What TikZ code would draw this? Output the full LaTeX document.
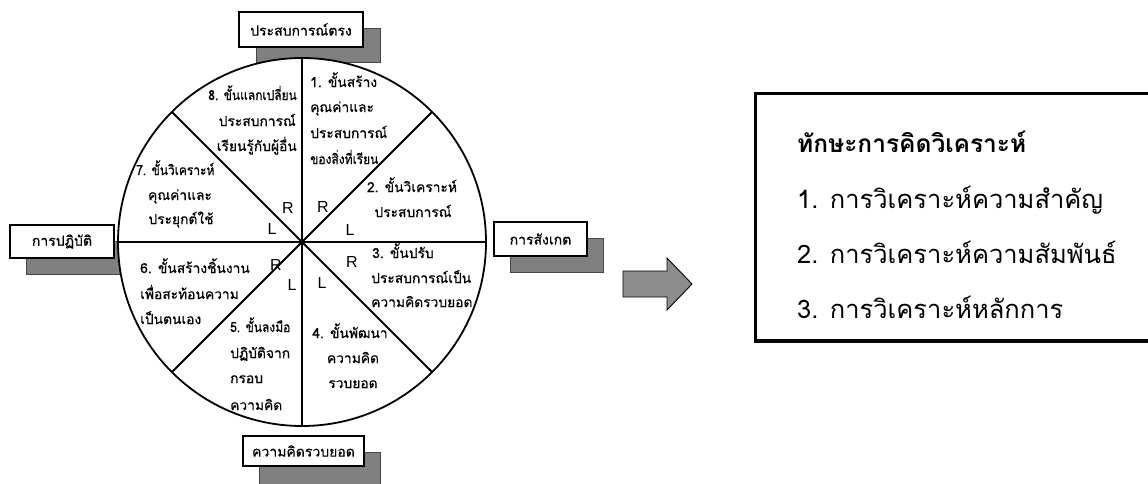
\documentclass[tikz,border=0pt]{standalone}
\usepackage{fontspec}
\setmainfont{Liberation Sans}
\newfontfamily\thai[Script=Thai]{Loma}
\newfontfamily\thaiw[Script=Thai,FakeBold=0.6]{Loma}
\newfontfamily\thain[Script=Thai,FakeBold=0.6,FakeStretch=0.87]{Loma}
\newfontfamily\thaititle[Script=Thai]{Loma Bold}
\definecolor{shadowgray}{RGB}{128,128,128}
\definecolor{shadowedge}{RGB}{70,70,70}
\definecolor{arrowgray}{RGB}{140,140,140}
\tikzset{
  ct/.style={font=\thaiw\fontsize{13.8}{16}\selectfont, inner sep=0pt},
  ctn/.style={font=\thain\fontsize{13.8}{16}\selectfont, inner sep=0pt},
  rl/.style={font=\fontsize{16}{17}\selectfont, inner sep=0pt},
  lbl/.style={draw, line width=1.3pt, fill=white, font=\thaiw\fontsize{14}{16}\selectfont, inner sep=0pt},
  shadowbox/.style={fill=shadowgray, draw=shadowedge, line width=0.8pt},
  wheel/.style={line width=1.8pt},
  big/.style={font=\thai\fontsize{25.5}{28}\selectfont, inner sep=0pt, anchor=base west},
}
\begin{document}
\begin{tikzpicture}[x=1pt,y=-1pt]
\useasboundingbox (0,0) rectangle (1148,483);
% shadows
\draw[shadowbox] (256,28) rectangle (380,62);
\draw[shadowbox] (26,241) rectangle (130,274);
\draw[shadowbox] (510,238) rectangle (603,272);
\draw[shadowbox] (259,452) rectangle (380,490);
% wheel
\coordinate (c) at (302,242);
\draw[wheel, fill=white] (c) circle[radius=184pt];
\foreach \a in {0,45,...,315}{
  \draw[wheel] (c) -- ++(\a:184pt);
}
% label boxes
\node[lbl, minimum width=124pt, minimum height=35pt] (top) at (301,29.5) {ประสบการณ์ตรง};
\node[lbl, minimum width=104pt, minimum height=33pt] (left) at (62,241.5) {การปฏิบัติ};
\node[lbl, minimum width=93pt, minimum height=34pt] (right) at (540.5,239) {การสังเกต};
\node[lbl, minimum width=121pt, minimum height=30pt] (bottom) at (303.5,451) {ความคิดรวบยอด};
% sector 1
\node[ct, anchor=base west] (s1a) at (310,87) {1. ขั้นสร้าง};
\node[ct, anchor=base west] (s1b) at (310,112) {คุณค่าและ};
\node[ct, anchor=base west] (s1c) at (310,138) {ประสบการณ์};
\node[ctn, anchor=base west] (s1d) at (310,164) {ของสิ่งที่เรียน};
% sector 2
\node[ct, anchor=base] (s2a) at (412,192) {2. ขั้นวิเคราะห์};
\node[ct, anchor=base] (s2b) at (413,217) {ประสบการณ์};
% sector 3
\node[ct, anchor=base west] (s3a) at (372,258) {3. ขั้นปรับ};
\node[ct, anchor=base west] (s3b) at (371,283) {ประสบการณ์เป็น};
\node[ct, anchor=base west] (s3c) at (371,307) {ความคิดรวบยอด};
% sector 4
\node[ct, anchor=base] (s4a) at (350,338) {4. ขั้นพัฒนา};
\node[ct, anchor=base] (s4b) at (353,363) {ความคิด};
\node[ct, anchor=base] (s4c) at (353,388) {รวบยอด};
% sector 5
\node[ctn, anchor=base west] (s5a) at (230,332) {5. ขั้นลงมือ};
\node[ct, anchor=base west] (s5b) at (230,358) {ปฏิบัติจาก};
\node[ct, anchor=base west] (s5c) at (230,383) {กรอบ};
\node[ct, anchor=base west] (s5d) at (230,410) {ความคิด};
% sector 6
\node[ct, anchor=base west] (s6a) at (140,273) {6. ขั้นสร้างชิ้นงาน};
\node[ct, anchor=base west] (s6b) at (140,299) {เพื่อสะท้อนความ};
\node[ct, anchor=base west] (s6c) at (140,324) {เป็นตนเอง};
% sector 7
\node[ctn, anchor=base west] (s7a) at (136,175) {7. ขั้นวิเคราะห์};
\node[ct, anchor=base] (s7b) at (180,200) {คุณค่าและ};
\node[ct, anchor=base] (s7c) at (181,224) {ประยุกต์ใช้};
% sector 8
\node[ctn, anchor=base east] (s8a) at (297,100) {8. ขั้นแลกเปลี่ยน};
\node[ct, anchor=base east] (s8b) at (296,126) {ประสบการณ์};
\node[ct, anchor=base east] (s8c) at (297,151) {เรียนรู้กับผู้อื่น};
% R / L
\node[rl] (r1) at (288,208) {R};
\node[rl] (l1) at (272,229) {L};
\node[rl] (r2) at (323,207) {R};
\node[rl] (l2) at (350,230) {L};
\node[rl] (r3) at (352,262) {R};
\node[rl] (l3) at (322,283) {L};
\node[rl] (r4) at (276,265) {R};
\node[rl] (l4) at (292,285) {L};
% block arrow
\draw[fill=arrowgray, line width=0.9pt, line join=miter]
  (623,271) -- (667,271) -- (667,258) -- (692,284) -- (667,310) -- (667,297) -- (623,297) -- cycle;
% result box
\draw[line width=3.5pt] (755.5,93.5) rectangle (1165,341);
\node[big, font=\thaititle\fontsize{24.5}{28}\selectfont] (title) at (797,152) {ทักษะการคิดวิเคราะห์};
\node[big] (k1) at (797,208) {1. การวิเคราะห์ความสำคัญ};
\node[big] (k2) at (797,263) {2. การวิเคราะห์ความสัมพันธ์};
\node[big] (k3) at (797,318) {3. การวิเคราะห์หลักการ};
\end{tikzpicture}
\end{document}
